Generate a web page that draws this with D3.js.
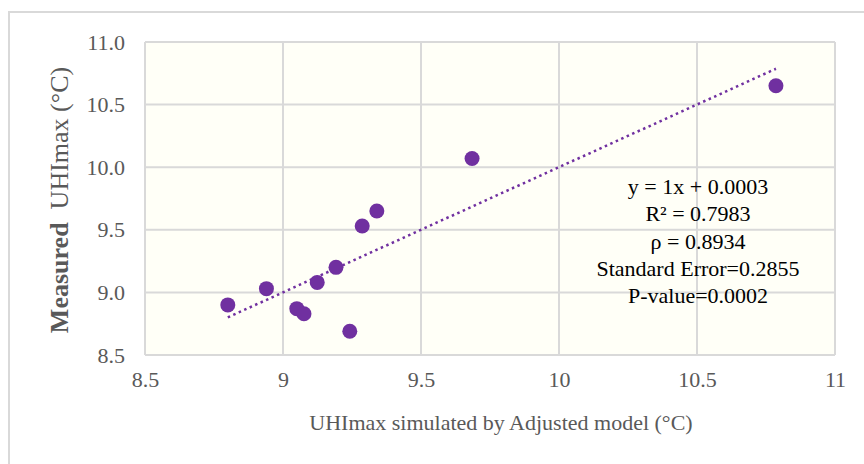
<!DOCTYPE html>
<html>
<head>
    <meta charset="utf-8">
    <title>uhimax_scatter</title>
    <script type="text/javascript" src="https://cdn.jsdelivr.net/npm/d3@7/dist/d3.min.js"></script>
    <style>
		body {
			margin: 0;
			background: #fff;
			}
		.mytext {
			font-family: "Liberation Serif", "Times New Roman", serif;
			fill: #595959;
			}
		.grid line {
			stroke: #d9d9d9;
			stroke-width: 2px;
			}
		.dot {
			fill: #7030a0;
			}
		.trend {
			stroke: #7030a0;
			stroke-width: 2.5px;
			stroke-dasharray: 2.5,3.5;
			fill: none;
			}
		.stats {
			font-family: "Liberation Serif", "Times New Roman", serif;
			font-size: 22px;
			fill: #000;
			}
    </style>
</head>
<body>
	<div id="svg_div"></div>
	<script type="text/javascript">
		// simulated (x) vs measured (y) UHImax
		var simulated = [8.80, 8.94, 9.05, 9.076, 9.124, 9.192, 9.242, 9.287, 9.34, 9.685, 10.786],
		measured = [8.90, 9.03, 8.87, 8.83, 9.08, 9.20, 8.69, 9.53, 9.65, 10.07, 10.65],
		xTicks = [8.5, 9, 9.5, 10, 10.5, 11],
		yTicks = [8.5, 9.0, 9.5, 10.0, 10.5, 11.0],
		trend = {slope: 1, intercept: 0.0003},
		statLines = ["y = 1x + 0.0003", "R² = 0.7983", "ρ = 0.8934", "Standard Error=0.2855", "P-value=0.0002"]
		;

		var width = 864,
		height = 464,
		pLeft = 145,
		pRight = 835,
		pTop = 42,
		pBottom = 355
		;

		var svg = d3.select("#svg_div").append("svg")
            .attr("width", width)
            .attr("height", height);

		// outer chart border (only top/left visible)
		svg.append("path")
			.attr("d", "M9,464 V12 H864")
			.attr("fill", "none")
			.attr("stroke", "#d9d9d9")
			.attr("stroke-width", 2);

		var x = d3.scaleLinear().domain([8.5, 11]).range([pLeft, pRight]);
		var y = d3.scaleLinear().domain([8.5, 11]).range([pBottom, pTop]);

		svg.append("rect")
			.attr("x", pLeft)
			.attr("y", pTop)
			.attr("width", pRight - pLeft)
			.attr("height", pBottom - pTop)
			.attr("fill", "#fffff7");

		var grid = svg.append("g").attr("class", "grid");
		grid.selectAll(".vx")
			.data(xTicks)
			.enter()
			.append("line")
			.attr("x1", function(d){return x(d)})
			.attr("x2", function(d){return x(d)})
			.attr("y1", pTop)
			.attr("y2", pBottom);
		grid.selectAll(".hy")
			.data(yTicks)
			.enter()
			.append("line")
			.attr("x1", pLeft)
			.attr("x2", pRight)
			.attr("y1", function(d){return y(d)})
			.attr("y2", function(d){return y(d)});

		// axis labels via d3 axes, lines hidden
		svg.append("g")
			.attr("transform", "translate(0," + pBottom + ")")
			.call(d3.axisBottom(x).tickValues(xTicks).tickFormat(d3.format("")).tickSize(0).tickPadding(16));
		svg.append("g")
			.attr("transform", "translate(" + pLeft + ",0)")
			.call(d3.axisLeft(y).tickValues(yTicks).tickFormat(d3.format(".1f")).tickSize(0).tickPadding(20));
		svg.selectAll(".domain").remove();
		svg.selectAll(".tick text")
			.style("font-family", "'Liberation Serif', 'Times New Roman', serif")
			.style("font-size", "22px")
			.style("fill", "#595959");

		// trendline over data range
		var xr = d3.extent(simulated);
		svg.append("line")
			.attr("class", "trend")
			.attr("x1", x(xr[0]))
			.attr("y1", y(trend.slope * xr[0] + trend.intercept))
			.attr("x2", x(xr[1]))
			.attr("y2", y(trend.slope * xr[1] + trend.intercept));

		svg.selectAll(".dot")
			.data(simulated)
			.enter()
			.append("circle")
			.attr("class", "dot")
			.attr("cx", function(d){return x(d)})
			.attr("cy", function(d,i){return y(measured[i])})
			.attr("r", 7.5);

		svg.selectAll(".stats")
			.data(statLines)
			.enter()
			.append("text")
			.attr("class", "stats")
			.attr("x", 698)
			.attr("y", function(d,i){return 194 + i * 27.3})
			.attr("text-anchor", "middle")
			.text(function(d){return d});

		// axis titles
		svg.append("text")
			.attr("class", "mytext")
			.attr("x", 501)
			.attr("y", 430)
			.attr("text-anchor", "middle")
			.style("font-size", "22px")
			.text("UHImax simulated by Adjusted model (°C)");

		var yt = svg.append("text")
			.attr("class", "mytext")
			.attr("transform", "translate(68,200) rotate(-90)")
			.attr("text-anchor", "middle")
			.style("font-size", "26px")
			.attr("xml:space", "preserve");
		yt.append("tspan").style("font-weight", "bold").text("Measured");
		yt.append("tspan").text("  UHImax (°C)");
	</script>
</body>
</html>
